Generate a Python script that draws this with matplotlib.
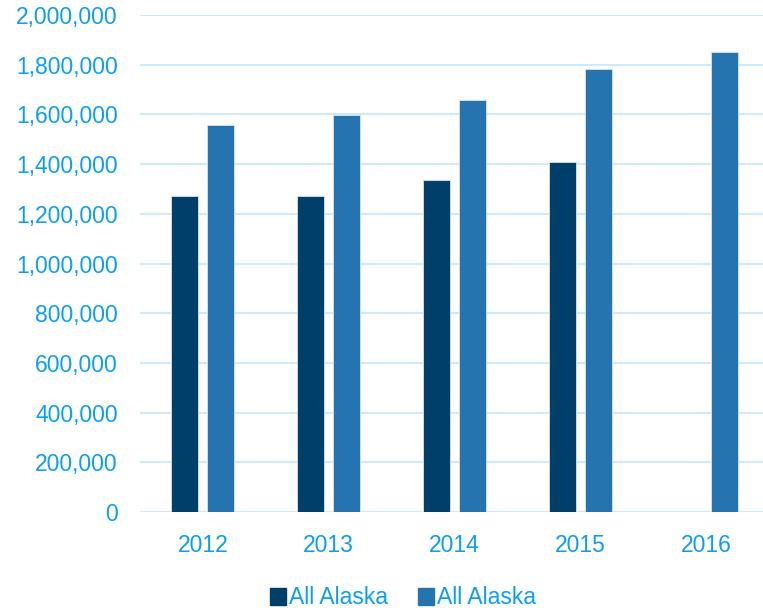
import matplotlib
matplotlib.use("Agg")
import matplotlib.pyplot as plt
import numpy as np
from matplotlib.ticker import FuncFormatter
from matplotlib.patches import Patch

years = ["2012", "2013", "2014", "2015", "2016"]
series1 = [1272000, 1270000, 1336000, 1409000, 0]
series2 = [1557000, 1596000, 1659000, 1781000, 1852000]
series_names = ["All Alaska", "All Alaska"]

c_dark = "#003f69"
c_light = "#2574af"
txt = "#0d9ef2"
grid = "#d0eafb"

plt.rcParams['font.family'] = ['Liberation Sans', 'DejaVu Sans']

fig = plt.figure(figsize=(7.63, 6.11), dpi=100)
ax = fig.add_axes([140/763, 99/611, 629/763, 497/611])

x = np.arange(len(years))
w = 0.215
off = 0.143
ax.bar(x - off, series1, width=w, color=c_dark, edgecolor="#d8e4ee", linewidth=0.6, zorder=3)
ax.bar(x + off, series2, width=w, color=c_light, edgecolor="#d8e4ee", linewidth=0.6, zorder=3)

ax.set_xlim(-0.5, 4.5)
ax.set_ylim(0, 2000000)
ax.set_yticks(np.arange(0, 2000001, 200000))
ax.yaxis.set_major_formatter(FuncFormatter(lambda v, p: f"{int(v):,}"))
ax.set_xticks(x)
ax.set_xticklabels(years)
ax.grid(axis='y', color=grid, linewidth=1.5, zorder=0)
ax.set_axisbelow(True)
for s in ax.spines.values():
    s.set_visible(False)
ax.tick_params(axis='both', length=0, labelsize=16.5, colors=txt)
ax.tick_params(axis='y', pad=16)
ax.tick_params(axis='x', pad=16)

handles = [Patch(color=c_dark), Patch(color=c_light)]
fig.legend(handles, series_names, loc='center', bbox_to_anchor=(403/763, 1 - 598/611),
           ncol=2, frameon=False, fontsize=16.5, labelcolor=txt,
           handlelength=0.7, handleheight=0.7, handletextpad=0.15, columnspacing=1.3)

fig.savefig("out.png", dpi=100)
